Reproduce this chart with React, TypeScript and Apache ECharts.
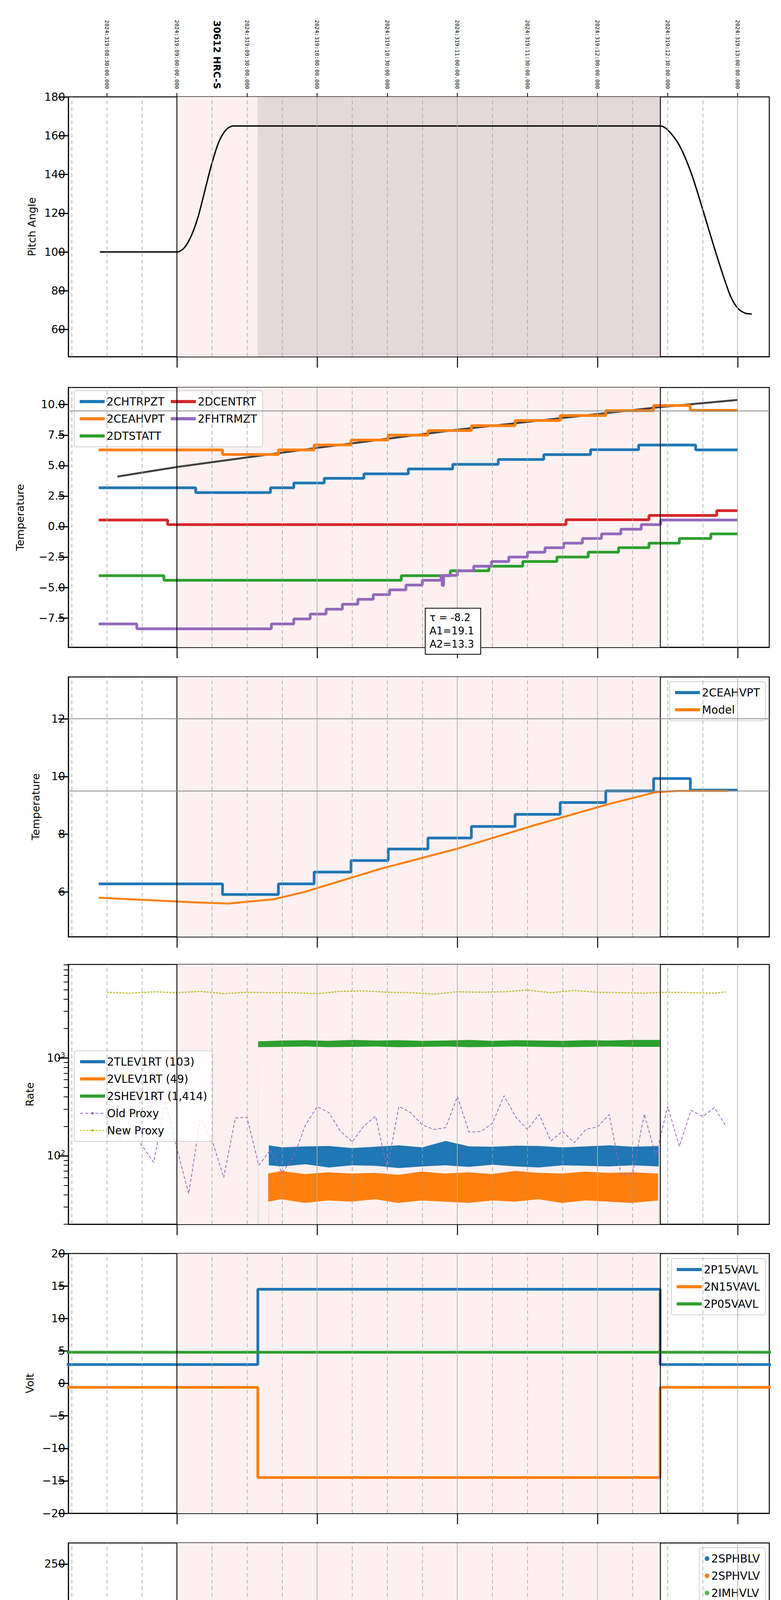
import React, { useEffect, useRef } from "react";
import * as echarts from "echarts";

// time axis is minutes since 00:00 local (2024-11-14)
const T0 = 193.5;
const T1 = 493.5;
const OBS_START = 240;
const OBS_END = 446.8;
const SLEW_END = 274.5;

const C = { blue: "#1f77b4", orange: "#ff7f0e", green: "#2ca02c", red: "#d62728", purple: "#9467bd", olive: "#bcbd22" };

// panel 1: pitch angle
const PITCH = [
  [207, 100], [240, 100], [243, 102], [246, 108], [249, 118], [252, 132], [255, 146], [258, 157], [261, 163], [264, 165],
  [446.8, 165], [450, 163], [455, 155], [460, 141], [465, 122], [470, 102], [474, 87], [477, 77], [480, 71], [483, 68.5], [486, 68],
];

// panel 2: temperatures (step values: [time, value])
const CHTRPZT = [[206.5, 3.18], [248, 2.78], [280, 3.18], [290, 3.57], [303, 3.95], [320, 4.32], [339, 4.72], [358, 5.1], [377.5, 5.5], [397, 5.9], [417, 6.3], [437.6, 6.68], [462, 6.28]];
const CEAHVPT = [[206.5, 6.28], [259.5, 5.91], [283.4, 6.28], [298.7, 6.69], [314.5, 7.09], [330.4, 7.49], [347.4, 7.87], [366, 8.27], [384.7, 8.69], [404, 9.1], [423.5, 9.5], [444, 9.93], [459.7, 9.53]];
const DCENTRT = [[206.5, 0.53], [236, 0.16], [406.5, 0.56], [442, 0.91], [471, 1.3]];
const DTSTATT = [[206.5, -4.03], [234.4, -4.41], [336, -4.03], [357, -3.63], [373.5, -3.25], [388, -2.87], [402.6, -2.5], [416, -2.1], [429, -1.73], [442, -1.36], [455, -0.98], [468.5, -0.6]];
const FHTRMZT_P2 = [[206.5, -7.99], [222.8, -8.39], [280.4, -7.99], [290, -7.58], [297, -7.18], [303.8, -6.78], [310.8, -6.37], [317.4, -5.97], [324, -5.58], [331, -5.19], [338, -4.8], [345, -4.41], [353, -4.01], [360, -3.63], [367, -3.25], [374.6, -2.87], [382, -2.5], [390, -2.11], [397.5, -1.74], [405.5, -1.36], [413.5, -0.98], [421.7, -0.6], [430, -0.22], [438.7, 0.16], [447, 0.53]];
const FHTRMZT_P2_DIPS = [[353.5, -4.83]];
const MODEL_P2 = [[214.5, 4.1], [240, 4.88], [300, 6.45], [360, 7.94], [446.5, 9.79], [480, 10.38]];

// panel 3: model vs 2CEAHVPT
const MODEL_P3 = [[206.5, 5.8], [247.5, 5.64], [262, 5.6], [281.5, 5.75], [294.6, 6.0], [327, 6.8], [360, 7.5], [392.5, 8.3], [425, 9.05], [444.5, 9.45], [454, 9.5], [476, 9.5]];

// panel 4: rates
const OLD_PROXY = [283, 148, 182, 127, 86, 363, 117, 41, 239, 145, 60, 244, 247, 80, 115, 67, 99, 207, 318, 277, 178, 139, 202, 254, 74, 320, 277, 207, 186, 194, 403, 175, 177, 215, 412, 249, 186, 265, 142, 178, 136, 186, 198, 265, 65, 65, 267, 99, 320, 125, 292, 252, 311, 200];
const NEW_PROXY = [4700, 4600, 4750, 4650, 4800, 4550, 4700, 4650, 4650, 4550, 4800, 4850, 4700, 4650, 4500, 4750, 4700, 4750, 4950, 4650, 4900, 4700, 4650, 4600, 4700, 4650, 4600, 4750];
const BAND_T = [279.3, 285, 295, 305, 315, 325, 335, 345, 355, 365, 375, 385, 395, 405, 415, 425, 435, 446.2];
const TLEV_HI = [128, 122, 125, 126, 120, 124, 128, 122, 142, 125, 124, 127, 126, 122, 125, 128, 124, 126];
const TLEV_LO = [80, 78, 82, 76, 80, 79, 75, 78, 80, 77, 81, 78, 76, 80, 79, 78, 80, 78];
const VLEV_HI = [66, 70, 65, 68, 66, 67, 64, 69, 66, 68, 65, 70, 67, 66, 69, 67, 68, 66];
const VLEV_LO = [34, 36, 33, 35, 34, 36, 33, 35, 34, 33, 35, 34, 36, 33, 35, 34, 33, 35];
const SHEV_T = [274.7, 285, 295, 305, 315, 325, 335, 345, 355, 365, 375, 385, 395, 405, 415, 425, 435, 446.6];
const SHEV_HI = [1480, 1510, 1520, 1500, 1530, 1510, 1520, 1500, 1510, 1530, 1500, 1520, 1510, 1500, 1520, 1510, 1530, 1530];
const SHEV_LO = [1290, 1300, 1310, 1290, 1300, 1310, 1290, 1300, 1310, 1290, 1300, 1310, 1300, 1290, 1300, 1310, 1300, 1300];

// panel 5: voltages
const P15VAVL = [[190, 2.9], [274.6, 14.5], [446.8, 2.9]];
const N15VAVL = [[190, -0.6], [274.6, -14.5], [446.8, -0.6]];
const P05VAVL = [[190, 4.8]];

// panel 6: HV monitor
const SPHBLV_DOTS = [[273.5, 101], [274, 95], [274.5, 90], [275, 86], [275.5, 82], [276, 79], [276.5, 77]];
const SPHBLV_LINE = [[276.5, 76.5], [446.5, 76.5]];
const SPHVLV_DOTS = [[273.5, 127], [273.7, 120], [274, 110], [274.5, 100], [275, 92], [275.5, 85], [276, 80], [276.5, 75], [338.1, 127], [339.4, 127], [340.7, 127], [342, 127], [343.4, 127], [370.6, 127], [378.4, 127], [381.1, 127]];
const SPHVLV_LINE = [[277, 70], [446.5, 70]];

// panels 7-8: glitch times
const SPIKE_A = [332.7, 334.2, 337, 338, 339.1, 340.2, 341.2, 342.3, 343.4, 344.4, 345.5, 346.6, 348, 349.7, 351.2];
const SPIKE_B = [366.8, 370, 372.5, 378.1, 379.2, 380.6];

// panel 7: detector temps
const SPINATM = [[274.7, 1.71], [315, 2.19], [376.8, 2.66], [420.7, 3.14]];
const SPHVATM = [[274.7, 14.34], [283.7, 14.69], [289, 14.97], [293.7, 15.32], [299, 15.7], [304, 16.05], [309, 16.38], [315.6, 16.74], [322.5, 17.07], [329.5, 17.43], [337, 17.81], [347, 18.16], [357.6, 18.49], [368.5, 18.84], [381.7, 19.18], [395.6, 19.55], [410, 19.92], [425.4, 20.3], [442, 20.68]];
const IMINATM = [[274.7, -0.08], [406.6, 0.35]];
const IMHVATM = [[274.6, -5], [274.7, 13.63], [315, 13.98], [332.7, 14.31], [349.7, 14.66], [366.4, 14.99], [383.2, 15.32], [399.4, 15.67], [415.8, 16.03], [431.8, 16.35], [446.6, 30], [446.8, -10]];

// panel 8: FEA temps
const FHTRMZT_P8 = [[206.5, -8], [222.3, -8.41], [280.5, -7.99], [290, -7.6], [297.5, -7.2], [304.3, -6.79], [311, -6.39], [317.8, -5.99], [324.6, -5.6], [331, -5.22], [345, -4.62], [352.7, -4.05], [360, -3.66], [367.4, -3.28], [374.9, -2.89], [382, -2.51], [389.6, -2.13], [397.7, -1.74], [405.8, -1.36], [413.7, -0.97], [422.2, -0.59], [430.7, -0.22], [439.2, 0.15], [446.7, 0.5]];
const FRADPYT = [[292.5, -9.5], [292.6, -8.84], [298.6, -8.41], [306, -8.0], [312.9, -7.6], [319.9, -7.2], [327.4, -6.79], [334.2, -6.39], [341.2, -5.99], [349.7, -5.6], [356.7, -5.2], [364.7, -4.82], [372.1, -4.43], [380.6, -4.05], [388.1, -3.66], [396.6, -3.28], [405.2, -2.89], [413.7, -2.51], [422.2, -2.13], [431.4, -1.74], [440.7, -1.36], [451.6, -0.97], [453, -1.36], [463.7, -0.97], [474.8, -1.38]];
const FEPRATM = [[274.4, -9.5], [274.5, -8.55], [277.3, -8.13], [280, -7.71], [283, -7.3], [285.8, -6.9], [289.4, -6.48], [294.3, -6.04], [300.1, -5.64], [306, -5.22], [312.5, -4.8], [318.8, -4.38], [325.7, -3.97], [335.9, -3.56], [347.6, -3.12], [351.9, -2.7], [356.7, -2.28], [364.7, -1.85], [373.8, -1.41], [381.7, -0.97], [390.7, -0.54], [399.9, -0.1], [408.8, 0.36], [418.6, 0.81], [428.2, 1.27], [438.2, 1.69]];
const FE00ATM = [[281.9, -9.5], [282, -8.94], [289, -8.55], [294.7, -8.16], [299.2, -7.76], [304.3, -7.36], [309.7, -6.95], [314.6, -6.78], [319.9, -6.41], [325.2, -6.04], [330.6, -5.71], [340, -5.4], [347.6, -5.03], [348.7, -4.66], [352.9, -4.31], [358.7, -4.0], [364.7, -3.64], [371, -3.29], [377.4, -2.97], [382.7, -2.62], [389.6, -2.27], [395.6, -1.93], [402.6, -1.62], [409, -1.29], [415.4, -0.94], [422.2, -0.62], [428.6, -0.31], [435.4, 0.02], [442, 0.34], [446.7, 5], [446.8, -12]];

const FONT = "DejaVu Sans";
const TOPS = [248, 992, 1733, 2469, 3209, 3950, 4686, 5426];
const PH = 665;
const HOURS = [240, 300, 360, 420, 480];
const QUARTERS = [195, 210, 225, 255, 270, 285, 315, 330, 345, 375, 390, 405, 435, 450, 465];
const LW = 7;

function stepPath(steps: number[][], end: number, spikes: number[][] = [], w = 0.35) {
  const ev = [
    ...steps.slice(1).map((s) => ({ t: s[0], v: s[1], k: 0 })),
    ...spikes.map((s) => ({ t: s[0], v: s[1], k: 1 })),
  ].sort((a, b) => a.t - b.t);
  let cur = steps[0][1];
  const pts: number[][] = [[steps[0][0], cur]];
  for (const e of ev) {
    if (e.k === 0) {
      pts.push([e.t, cur]);
      cur = e.v;
      pts.push([e.t, cur]);
    } else {
      pts.push([e.t, cur], [e.t, e.v], [e.t + w, e.v], [e.t + w, cur]);
    }
  }
  pts.push([end, cur]);
  return pts;
}

const spikesAt = (times: number[], v: number | ((i: number) => number)) =>
  times.map((t, i) => [t, typeof v === "function" ? v(i) : v]);

const pad = (n: number) => String(n).padStart(2, "0");

function decor(i: number, pitch = false, hlines: number[] = []) {
  const areas = pitch
    ? [
        [{ xAxis: OBS_START, itemStyle: { color: "#fdf0f0" } }, { xAxis: SLEW_END }],
        [{ xAxis: SLEW_END, itemStyle: { color: "#e4d9da" } }, { xAxis: OBS_END }],
      ]
    : [[{ xAxis: OBS_START, itemStyle: { color: "#fdf0f0" } }, { xAxis: OBS_END }]];
  return {
    type: "line",
    xAxisIndex: i,
    yAxisIndex: i,
    data: [],
    silent: true,
    z: 1,
    markArea: { silent: true, data: areas },
    markLine: {
      silent: true,
      symbol: "none",
      label: { show: false },
      data: [
        ...QUARTERS.map((x) => ({ xAxis: x, lineStyle: { color: "#a0a0a0", type: [10, 7], width: 1.5 } })),
        ...HOURS.filter((h) => h !== OBS_START).map((x) => ({ xAxis: x, lineStyle: { color: "#b0b0b0", type: "solid", width: 1.8 } })),
        ...[OBS_START, OBS_END].map((x) => ({ xAxis: x, lineStyle: { color: "#000", type: "solid", width: 2.2 } })),
        ...hlines.map((y) => ({ yAxis: y, lineStyle: { color: "#888", type: "solid", width: 2 } })),
      ],
    },
  };
}

function line(name: string, i: number, data: number[][], color: string, width = LW, extra: any = {}) {
  return { type: "line", name, xAxisIndex: i, yAxisIndex: i, data, showSymbol: false, symbol: "none", z: 3, lineStyle: { color, width }, itemStyle: { color }, ...extra };
}

function band(name: string, i: number, ts: number[], hi: number[], lo: number[], color: string, floor: number) {
  return {
    type: "custom",
    name,
    xAxisIndex: i,
    yAxisIndex: i,
    clip: true,
    z: 3,
    itemStyle: { color },
    data: [[ts[0], hi[0]]],
    renderItem: (_: any, api: any) => {
      const pts: number[][] = [api.coord([ts[0], floor])];
      ts.forEach((t, k) => pts.push(api.coord([t, hi[k]])));
      pts.push(api.coord([ts[ts.length - 1], floor]));
      pts.push(api.coord([ts[ts.length - 1] - 0.1, floor]));
      for (let k = ts.length - 1; k >= 0; k--) pts.push(api.coord([ts[k], lo[k]]));
      pts.push(api.coord([ts[0] + 0.1, floor]));
      return { type: "polygon", shape: { points: pts }, style: { fill: color } };
    },
  };
}

const yTicks = (vals: number[], fmt?: (v: number) => string, extra: any = {}) => ({
  axisLine: { show: true, lineStyle: { color: "#000", width: 2.5 } },
  axisTick: { show: true, customValues: vals, length: 26, lineStyle: { color: "#000", width: 3 } },
  axisLabel: { customValues: vals, fontSize: 28, fontFamily: FONT, color: "#000", margin: 8, formatter: fmt },
  splitLine: { show: false },
  ...extra,
});

const minus = (d: number) => (v: number) => (v < 0 ? "\u2212" + Math.abs(v).toFixed(d) : v.toFixed(d));

function legendBox(items: any[], pos: any, extra: any = {}) {
  return {
    data: items,
    orient: "vertical",
    ...pos,
    itemWidth: 64,
    itemHeight: 8,
    itemGap: 16,
    padding: [14, 14],
    backgroundColor: "rgba(255,255,255,0.85)",
    borderColor: "#d0d0d0",
    borderWidth: 2,
    borderRadius: 6,
    textStyle: { fontSize: 28, fontFamily: FONT, color: "#000" },
    ...extra,
  };
}
const li = (name: string, color: string) => ({ name, icon: "rect", itemStyle: { color } });

export default function App() {
  const ref = useRef<HTMLDivElement | null>(null);

  useEffect(() => {
    document.body.style.margin = "0";
    if (!ref.current) return;
    const chart = echarts.init(ref.current, null, { renderer: "svg" });

    const grids = TOPS.map((top) => ({ left: 175, right: 30, top, height: PH, show: true, borderColor: "#000", borderWidth: 2.5, backgroundColor: "transparent" }));

    const xAxes: any[] = TOPS.map((_, i) => ({
      gridIndex: i,
      type: "value",
      min: T0,
      max: T1,
      axisLine: { show: true, onZero: false, lineStyle: { color: "#000", width: 2.5 } },
      axisTick: { show: true, customValues: HOURS, length: 28, lineStyle: { color: "#000", width: 2.5 } },
      axisLabel: i === 7
        ? { customValues: HOURS, formatter: (v: number) => pad(v / 60) + "h", fontSize: 30, fontFamily: FONT, color: "#000", margin: 48 }
        : { show: false },
      splitLine: { show: false },
      ...(i === 7 ? { name: "2024-11-14 (319)", nameLocation: "middle", nameGap: 92, nameTextStyle: { fontSize: 32, fontFamily: FONT, color: "#000" } } : {}),
    }));
    // minute ticks on the bottom panel
    xAxes.push({
      gridIndex: 7, type: "value", min: T0, max: T1, position: "bottom",
      axisLine: { show: false },
      axisTick: { show: true, customValues: QUARTERS, length: 10, lineStyle: { color: "#000", width: 2 } },
      axisLabel: { customValues: QUARTERS, formatter: (v: number) => String(v % 60), fontSize: 18, fontFamily: FONT, color: "#000", margin: 12 },
      splitLine: { show: false },
    });
    // obsid labels above the pitch panel
    const obsTimes = [210, 240, 270, 300, 330, 360, 390, 420, 450, 480];
    xAxes.push({
      gridIndex: 0, type: "value", min: T0, max: T1, position: "top",
      axisLine: { show: false },
      axisTick: { show: true, customValues: obsTimes, length: 10, lineStyle: { color: "#000", width: 2 } },
      axisLabel: {
        customValues: [...obsTimes, 257],
        rotate: 90,
        margin: 20,
        fontSize: 14,
        fontFamily: "DejaVu Sans Mono",
        color: "#000",
        formatter: (v: number) => {
          if (v === 257) return "{b|30612 HRC-S}";
          const u = v + 300;
          return `2024:319:${pad(Math.floor(u / 60))}:${pad(u % 60)}:00.000`;
        },
        rich: { b: { fontSize: 24, fontWeight: "bold", fontFamily: FONT, color: "#000" } },
      },
      splitLine: { show: false },
    });

    const yName = (name: string, gap = 100) => ({ name, nameLocation: "middle", nameGap: gap, nameTextStyle: { fontSize: 27, fontFamily: FONT, color: "#000" } });
    const yAxes: any[] = [
      { gridIndex: 0, type: "value", min: 46, max: 180, ...yTicks([60, 80, 100, 120, 140, 160, 180]), ...yName("Pitch Angle", 80) },
      { gridIndex: 1, type: "value", min: -9.9, max: 11.4, ...yTicks([-7.5, -5, -2.5, 0, 2.5, 5, 7.5, 10], minus(1)), ...yName("Temperature", 110) },
      { gridIndex: 2, type: "value", min: 4.45, max: 13.45, ...yTicks([6, 8, 10, 12]), ...yName("Temperature", 70) },
      {
        gridIndex: 3, type: "log", min: 20, max: 9040,
        ...yTicks([100, 1000], (v: number) => (v === 100 ? "10{s|2}" : "10{s|3}")),
        ...yName("Rate", 85),
      },
      { gridIndex: 4, type: "value", min: -20, max: 20, ...yTicks([-20, -15, -10, -5, 0, 5, 10, 15, 20], minus(0)), ...yName("Volt", 85) },
      { gridIndex: 5, type: "value", min: 0, max: 272, ...yTicks([0, 50, 100, 150, 200, 250]), ...yName("HV Monitor", 85) },
      { gridIndex: 6, type: "value", min: -1.6, max: 21.1, ...yTicks([0, 5, 10, 15, 20]), ...yName("Detector Temp", 70) },
      { gridIndex: 7, type: "value", min: -9.08, max: 1.41, ...yTicks([-8, -6, -4, -2, 0], minus(0)), ...yName("FEA Temp", 85) },
    ];
    yAxes[3].axisLabel.rich = { s: { fontSize: 18, fontFamily: FONT, padding: [0, 0, 16, 0] } };
    const minorLog: number[] = [];
    [10, 100, 1000].forEach((d) => [2, 3, 4, 5, 6, 7, 8, 9].forEach((m) => d * m >= 20 && d * m <= 9040 && minorLog.push(d * m)));
    yAxes.push({
      gridIndex: 3, type: "log", min: 20, max: 9040, position: "left",
      axisLine: { show: false },
      axisTick: { show: true, customValues: minorLog, length: 12, lineStyle: { color: "#000", width: 2 } },
      axisLabel: { show: false },
      splitLine: { show: false },
    });

    const series: any[] = [
      decor(0, true),
      line("Pitch", 0, PITCH, "#000", 3.5, { smooth: 0.3 }),

      decor(1, false, [9.5]),
      line("Model2", 1, MODEL_P2, "#404040", 5),
      line("2CHTRPZT", 1, stepPath(CHTRPZT, 480), C.blue),
      line("2CEAHVPT", 1, stepPath(CEAHVPT, 480), C.orange),
      line("2DTSTATT", 1, stepPath(DTSTATT, 480), C.green),
      line("2DCENTRT", 1, stepPath(DCENTRT, 480), C.red),
      line("2FHTRMZT", 1, stepPath(FHTRMZT_P2, 480, FHTRMZT_P2_DIPS, 0.6), C.purple),

      decor(2, false, [9.5, 12]),
      line("2CEAHVPT ", 2, stepPath(CEAHVPT, 480), C.blue),
      line("Model", 2, MODEL_P3, C.orange, 5),

      decor(3),
      line("New Proxy", 3, NEW_PROXY.map((v, k) => [Math.min(210 + 10 * k, 474.8), v]), C.olive, 3, { lineStyle: { color: C.olive, width: 3, type: [5, 3] } }),
      line("Old Proxy", 3, OLD_PROXY.map((v, k) => [210 + 5 * k, v]), C.purple, 2, { lineStyle: { color: C.purple, width: 2, type: [8, 5] } }),
      band("2SHEV1RT (1,414)", 3, SHEV_T, SHEV_HI, SHEV_LO, C.green, 5),
      band("2TLEV1RT (103)", 3, BAND_T, TLEV_HI, TLEV_LO, C.blue, 5),
      band("2VLEV1RT (49)", 3, BAND_T.map((t) => t - 0.3), VLEV_HI, VLEV_LO, C.orange, 5),

      decor(4),
      line("2P15VAVL", 4, stepPath(P15VAVL, 495), C.blue),
      line("2N15VAVL", 4, stepPath(N15VAVL, 495), C.orange),
      line("2P05VAVL", 4, stepPath(P05VAVL, 495), C.green),

      decor(5),
      line("2SPHBLV", 5, SPHBLV_LINE, C.blue, 8),
      line("2SPHVLV", 5, SPHVLV_LINE, C.orange, 8),
      { type: "scatter", name: "2SPHBLV", xAxisIndex: 5, yAxisIndex: 5, data: SPHBLV_DOTS, symbolSize: 8, itemStyle: { color: C.blue }, z: 3 },
      { type: "scatter", name: "2SPHVLV", xAxisIndex: 5, yAxisIndex: 5, data: SPHVLV_DOTS, symbolSize: 8, itemStyle: { color: C.orange }, z: 3 },
      { type: "scatter", name: "2IMHVLV", xAxisIndex: 5, yAxisIndex: 5, data: [], itemStyle: { color: C.green } },
      { type: "scatter", name: "2IMHBLV", xAxisIndex: 5, yAxisIndex: 5, data: [], itemStyle: { color: C.red } },

      decor(6),
      line("2SPINATM", 6, stepPath(SPINATM, 446.2, [...spikesAt(SPIKE_A, -2.5), ...spikesAt(SPIKE_B, -2.5)]), C.blue),
      line("2SPHVATM", 6, stepPath(SPHVATM, 446.2, [...spikesAt(SPIKE_A, 8.7), ...spikesAt(SPIKE_B, (k) => (k === 0 ? 9.35 : 9.65))]), C.orange),
      line("2IMINATM", 6, stepPath(IMINATM, 446.2, [...spikesAt(SPIKE_A, 2.2), ...spikesAt(SPIKE_B, (k) => (k > 2 ? 2.7 : 2.2))]), C.green),
      line("2IMHVATM", 6, stepPath(IMHVATM, 446.8, [...spikesAt(SPIKE_A, 17.85), ...spikesAt(SPIKE_B, 18.85)]), C.red),

      decor(7),
      line("2FHTRMZT ", 7, stepPath(FHTRMZT_P8, 480), C.blue),
      line("2FRADPYT", 7, stepPath(FRADPYT, 480), C.orange),
      line("2FEPRATM", 7, stepPath(FEPRATM, 446.2, [...spikesAt(SPIKE_A, -6.05), ...spikesAt(SPIKE_B, -6.05)]), C.green),
      line("2FE00ATM", 7, stepPath(FE00ATM, 446.8, [...spikesAt(SPIKE_A, 3), ...spikesAt(SPIKE_B, 3)]), C.red),
    ];

    const legend: any[] = [
      legendBox([li("2CHTRPZT", C.blue), li("2CEAHVPT", C.orange), li("2DTSTATT", C.green), li("2DCENTRT", C.red), li("2FHTRMZT", C.purple)], { left: 190, top: 1000, height: 150 }),
      legendBox([li("2CEAHVPT ", C.blue), li("Model", C.orange)], { right: 40, top: 1745 }, { formatter: (n: string) => n.trim() }),
      legendBox([li("2TLEV1RT (103)", C.blue), li("2VLEV1RT (49)", C.orange), li("2SHEV1RT (1,414)", C.green), { name: "Old Proxy" }, { name: "New Proxy" }], { left: 190, top: 2690 }),
      legendBox([li("2P15VAVL", C.blue), li("2N15VAVL", C.orange), li("2P05VAVL", C.green)], { right: 40, top: 3222 }),
      legendBox(["2SPHBLV", "2SPHVLV", "2IMHVLV", "2IMHBLV"].map((n, k) => ({ name: n, icon: "circle", itemStyle: { color: [C.blue, C.orange, C.green, C.red][k] } })), { right: 40, top: 3962 }, { itemWidth: 12, itemHeight: 12 }),
      legendBox([li("2SPINATM", C.blue), li("2SPHVATM", C.orange), li("2IMINATM", C.green), li("2IMHVATM", C.red)], { right: 40, top: 4700 }),
      legendBox([li("2FHTRMZT ", C.blue), li("2FRADPYT", C.orange), li("2FEPRATM", C.green), li("2FE00ATM", C.red)], { left: 190, top: 5440 }, { formatter: (n: string) => n.trim() }),
    ];

    chart.setOption({
      animation: false,
      backgroundColor: "#fff",
      textStyle: { fontFamily: FONT },
      grid: grids,
      xAxis: xAxes,
      yAxis: yAxes,
      legend,
      series,
      graphic: [
        { type: "rect", left: 1088, top: 1556, z: 100, shape: { width: 142, height: 118 }, style: { fill: "#fff", stroke: "#000", lineWidth: 2 } },
        { type: "text", left: 1100, top: 1564, z: 101, style: { text: "\u03c4 = -8.2\nA1=19.1\nA2=13.3", fontSize: 26, fontFamily: FONT, lineHeight: 34, fill: "#000" } },
      ],
    });

    return () => chart.dispose();
  }, []);

  return <div ref={ref} style={{ width: 2000, height: 6200 }} />;
}
